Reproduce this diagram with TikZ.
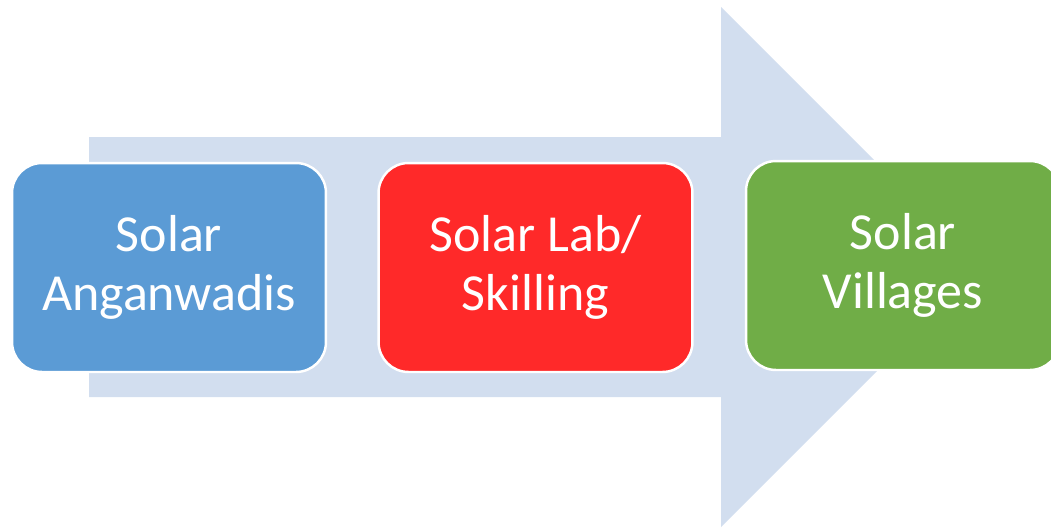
\documentclass[tikz,border=0pt]{standalone}
\usepackage{fontspec}
\setmainfont{Carlito}
\usetikzlibrary{positioning}

\definecolor{fleche}{HTML}{D2DEEF}
\definecolor{bleu}{HTML}{5B9BD5}
\definecolor{rouge}{HTML}{FF2929}
\definecolor{vert}{HTML}{70AD47}

\tikzset{
  etape/.style={draw=white, line width=1.4pt, rounded corners=0.6cm,
    minimum width=6.28cm, minimum height=4.18cm, align=center,
    text=white, font=\fontsize{29.6}{33.6}\selectfont}
}

\begin{document}
\begin{tikzpicture}[x=0.02cm,y=-0.02cm]
\useasboundingbox (0,0) rectangle (1051,528);
\clip (0,0) rectangle (1051,528);

% grande fleche de fond
\fill[fleche] (89,137) -- (721,137) -- (721,7) -- (981,267) -- (721,527) -- (721,397) -- (89,397) -- cycle;

% etapes
\node[etape, fill=bleu] (anganwadi) at(169,267.5) {Solar\\Anganwadis};
\node[etape, fill=rouge] (lab) at(535.5,267.5) {Solar Lab/\\Skilling};
\node[etape, fill=vert] (village) at(903,265.5) {Solar\\Villages};

\end{tikzpicture}
\end{document}
